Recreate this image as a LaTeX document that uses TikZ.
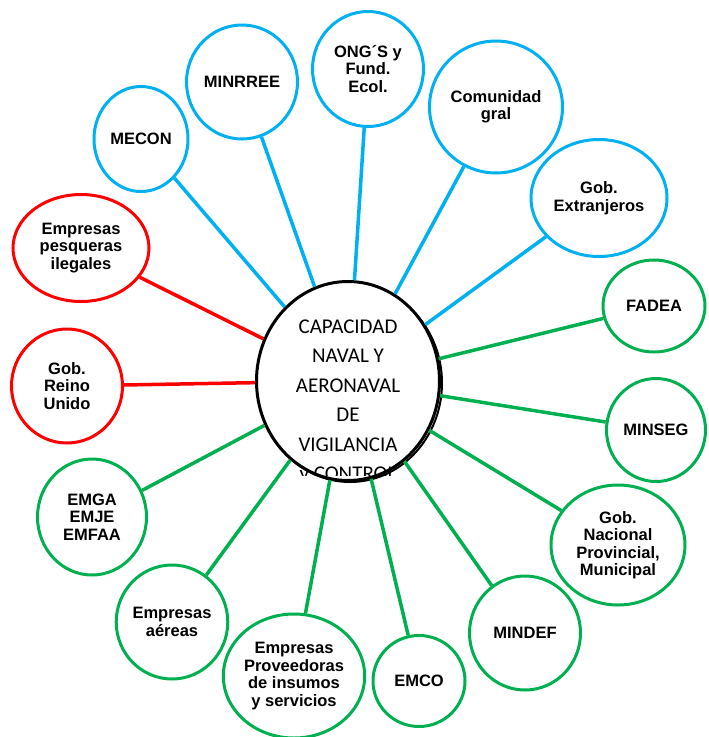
\documentclass[tikz,border=0pt]{standalone}
\usepackage{fontspec}
\setmainfont{Liberation Sans}
\newfontfamily\hubfont{Carlito}
\usetikzlibrary{shapes.geometric}
\definecolor{azul}{RGB}{0,176,240}
\definecolor{rojo}{RGB}{255,0,0}
\definecolor{verde}{RGB}{0,176,80}
\tikzset{
  actor/.style={ellipse, draw, line width=3pt, fill=white, text=black, inner sep=0pt,
    align=center, font=\bfseries\fontsize{16.5}{17.5}\selectfont},
  hub/.style={ellipse, draw=black, line width=3pt, fill=white, inner sep=0pt,
    minimum width=183, minimum height=199},
  lazo/.style={line width=3.5pt}
}
\begin{document}
\begin{tikzpicture}[x=1pt,y=-1pt]
\useasboundingbox (0,0) rectangle (709,737);
% center
\draw[line width=2pt] (350,383) ellipse (92 and 99);
\node[hub] (cap) at (348,381) {};
\begin{scope}
\clip (240,280) rectangle (460,475);
\node[align=center, font=\hubfont\fontsize{21}{29.5}\selectfont] at (348,402)
  {CAPACIDAD\\NAVAL Y\\AERONAVAL\\DE\\VIGILANCIA\\y CONTROL};
\end{scope}
% blue actors
\node[actor, draw=azul, minimum width=94, minimum height=105] (mecon) at (141,139) {MECON};
\node[actor, draw=azul, minimum width=111, minimum height=114] (minrree) at (242,82) {MINRREE};
\node[actor, draw=azul, minimum width=111, minimum height=115] (ong) at (368,69) {ONG´S y\\Fund.\\Ecol.};
\node[actor, draw=azul, minimum width=133, minimum height=132] (comunidad) at (496,107) {Comunidad\\gral};
\node[actor, draw=azul, minimum width=136, minimum height=117] (extranjeros) at (599,198) {Gob.\\Extranjeros};
% red actors
\node[actor, draw=rojo, minimum width=136, minimum height=107] (pesqueras) at (81,248) {Empresas\\pesqueras\\ilegales};
\node[actor, draw=rojo, minimum width=111, minimum height=114] (reino) at (67,386) {Gob.\\Reino\\Unido};
% green actors
\node[actor, draw=verde, minimum width=102, minimum height=92] (fadea) at (654,306) {FADEA};
\node[actor, draw=verde, minimum width=99, minimum height=103] (minseg) at (656,430) {MINSEG};
\node[actor, draw=verde, minimum width=134, minimum height=120] (nacional) at (618,545) {Gob.\\Nacional\\Provincial,\\Municipal};
\node[actor, draw=verde, minimum width=111, minimum height=114] (mindef) at (525,633) {MINDEF};
\node[actor, draw=verde, minimum width=92, minimum height=91] (emco) at (419,681) {EMCO};
\node[actor, draw=verde, minimum width=138, minimum height=124] (proveedoras) at (294,676) {Empresas\\Proveedoras\\de insumos\\y servicios};
\node[actor, draw=verde, minimum width=111, minimum height=114] (aereas) at (172,622) {Empresas\\aéreas};
\node[actor, draw=verde, minimum width=109, minimum height=116] (emga) at (92,517) {EMGA\\EMJE\\EMFAA};
% links
\foreach \n in {mecon,minrree,ong,comunidad,extranjeros}
  \draw[lazo, azul] (cap) -- (\n);
\foreach \n in {pesqueras,reino}
  \draw[lazo, rojo] (cap) -- (\n);
\foreach \n in {fadea,minseg,nacional,mindef,emco,proveedoras,aereas,emga}
  \draw[lazo, verde] (cap) -- (\n);
\end{tikzpicture}
\end{document}
